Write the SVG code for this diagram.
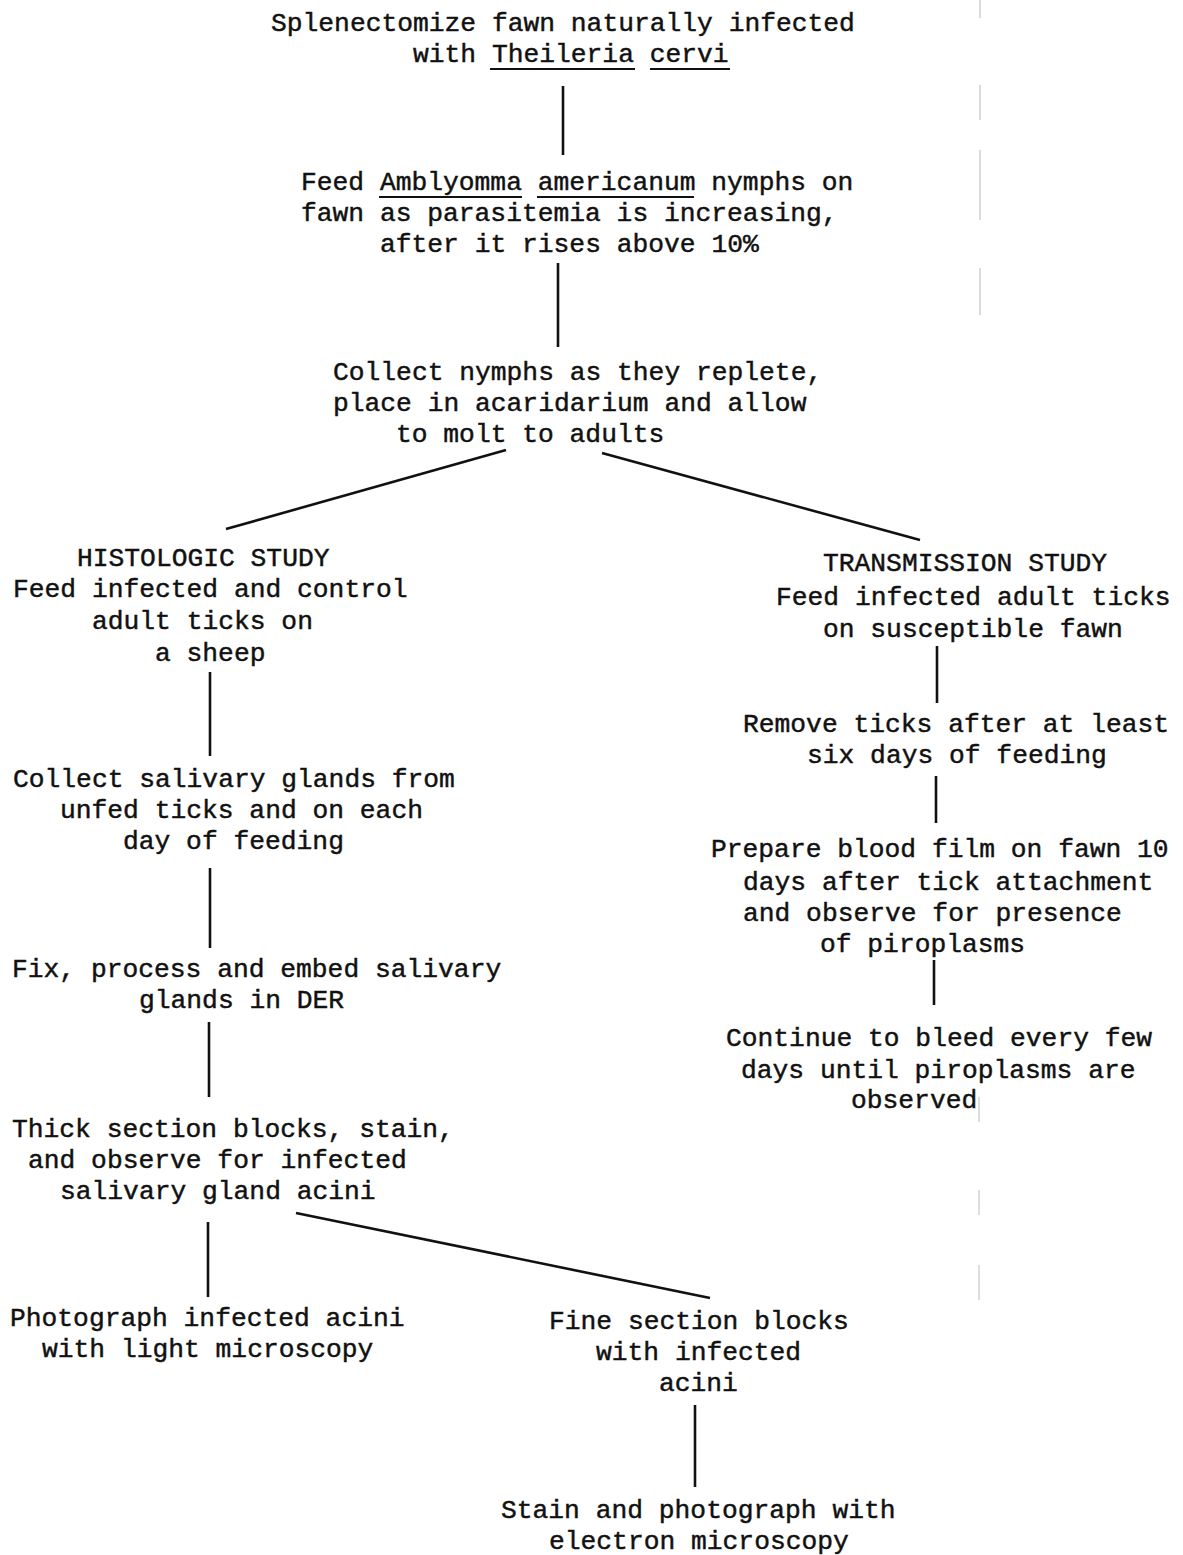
<svg xmlns="http://www.w3.org/2000/svg" width="1183" height="1555" viewBox="0 0 1183 1555">
<style>
text{font-family:"Liberation Mono","Courier New",monospace;font-size:26.3px;fill:#111;stroke:#111;stroke-width:0.45;}
.c line{stroke:#111;stroke-width:2.6;stroke-linecap:butt;}
.u{stroke:#111;stroke-width:1.8;}
.a{stroke:#bbb;stroke-width:1;}
</style>
<rect width="1183" height="1555" fill="#fff"/>
<g id="artifacts">
<line class="a" x1="980" y1="0" x2="980" y2="18"/>
<line class="a" x1="980" y1="85" x2="980" y2="120"/>
<line class="a" x1="980" y1="150" x2="980" y2="220"/>
<line class="a" x1="980" y1="268" x2="980" y2="315"/>
<line class="a" x1="979" y1="1097" x2="979" y2="1122"/>
<line class="a" x1="979" y1="1190" x2="979" y2="1215"/>
<line class="a" x1="979" y1="1265" x2="979" y2="1300"/>
</g>
<g class="c" id="connectors">
<line x1="563" y1="86" x2="563" y2="155"/>
<line x1="558" y1="263" x2="558" y2="347"/>
<line x1="506" y1="450" x2="226" y2="529"/>
<line x1="602" y1="453" x2="920" y2="540"/>
<line x1="210" y1="672" x2="210" y2="756"/>
<line x1="210" y1="868" x2="210" y2="948"/>
<line x1="209" y1="1022" x2="209" y2="1097"/>
<line x1="208" y1="1222" x2="208" y2="1297"/>
<line x1="296" y1="1213" x2="710" y2="1298"/>
<line x1="695" y1="1405" x2="695" y2="1487"/>
<line x1="937" y1="646" x2="937" y2="703"/>
<line x1="936" y1="776" x2="936" y2="823"/>
<line x1="934" y1="960" x2="934" y2="1005"/>
</g>
<g id="n1">
<text x="271" y="31">Splenectomize fawn naturally infected</text>
<text x="413" y="62">with Theileria cervi</text>
<line class="u" x1="490" y1="69" x2="635" y2="69"/>
<line class="u" x1="650" y1="69" x2="730" y2="69"/>
</g>
<g id="n2">
<text x="301" y="190">Feed Amblyomma americanum nymphs on</text>
<text x="301" y="221">fawn as parasitemia is increasing,</text>
<text x="380" y="252">after it rises above 10%</text>
<line class="u" x1="379" y1="197" x2="522" y2="197"/>
<line class="u" x1="537" y1="197" x2="694" y2="197"/>
</g>
<g id="n3">
<text x="333" y="380">Collect nymphs as they replete,</text>
<text x="333" y="411">place in acaridarium and allow</text>
<text x="396" y="442">to molt to adults</text>
</g>
<g id="n4">
<text x="77" y="566">HISTOLOGIC STUDY</text>
<text x="13" y="597">Feed infected and control</text>
<text x="92" y="629">adult ticks on</text>
<text x="155" y="661">a sheep</text>
</g>
<g id="n5">
<text x="13" y="787">Collect salivary glands from</text>
<text x="60" y="818">unfed ticks and on each</text>
<text x="123" y="849">day of feeding</text>
</g>
<g id="n6">
<text x="12" y="977">Fix, process and embed salivary</text>
<text x="139" y="1008">glands in DER</text>
</g>
<g id="n7">
<text x="12" y="1137">Thick section blocks, stain,</text>
<text x="28" y="1168">and observe for infected</text>
<text x="60" y="1199">salivary gland acini</text>
</g>
<g id="n8">
<text x="10" y="1326">Photograph infected acini</text>
<text x="42" y="1357">with light microscopy</text>
</g>
<g id="n9">
<text x="549" y="1329">Fine section blocks</text>
<text x="596" y="1360">with infected</text>
<text x="659" y="1391">acini</text>
</g>
<g id="n10">
<text x="501" y="1518">Stain and photograph with</text>
<text x="549" y="1549">electron microscopy</text>
</g>
<g id="n11">
<text x="823" y="571">TRANSMISSION STUDY</text>
<text x="776" y="605">Feed infected adult ticks</text>
<text x="823" y="637">on susceptible fawn</text>
</g>
<g id="n12">
<text x="743" y="732">Remove ticks after at least</text>
<text x="807" y="763">six days of feeding</text>
</g>
<g id="n13">
<text x="711" y="857">Prepare blood film on fawn 10</text>
<text x="743" y="890">days after tick attachment</text>
<text x="743" y="921">and observe for presence</text>
<text x="820" y="952">of piroplasms</text>
</g>
<g id="n14">
<text x="726" y="1046">Continue to bleed every few</text>
<text x="741" y="1078">days until piroplasms are</text>
<text x="851" y="1108">observed</text>
</g>
</svg>
